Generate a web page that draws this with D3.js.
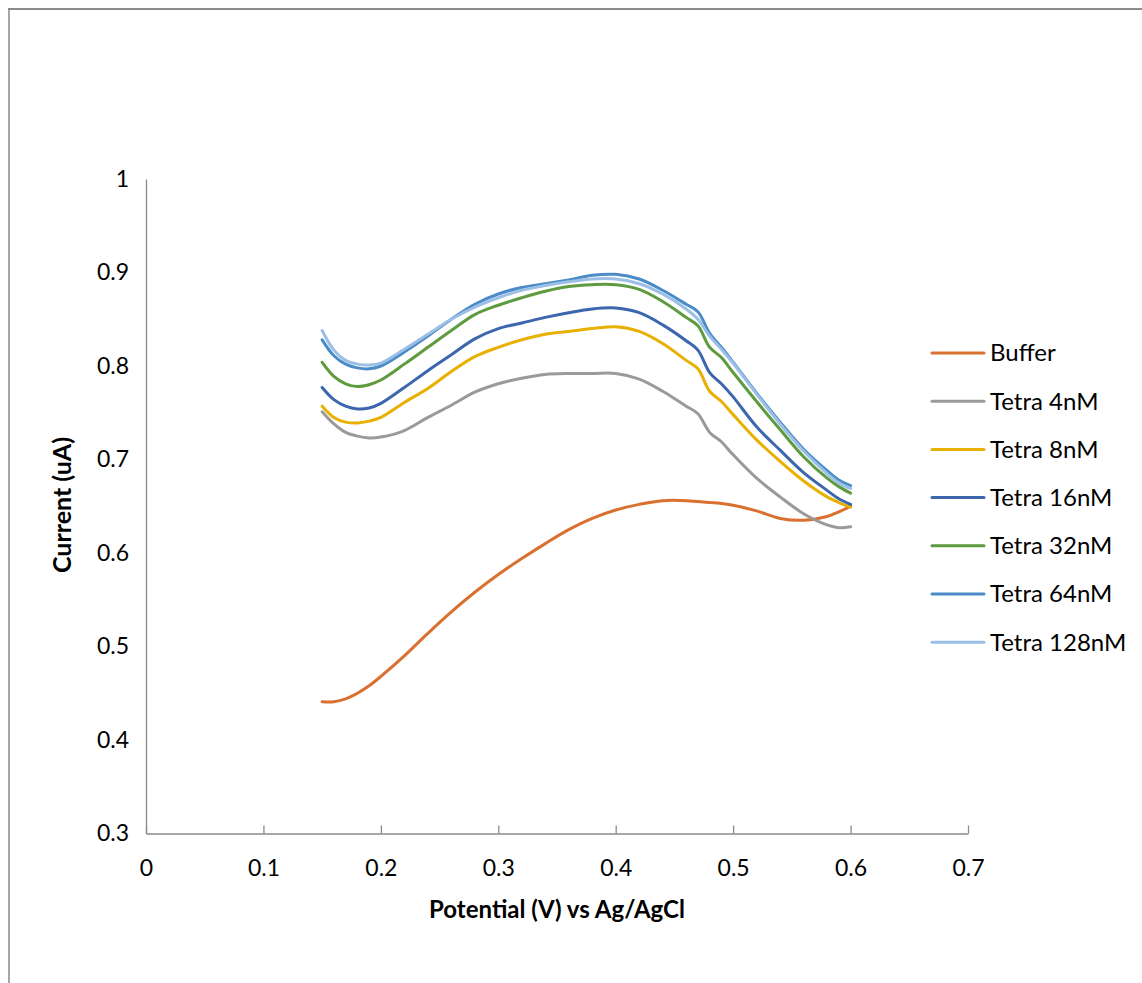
<!DOCTYPE html>
<html>
<head>
<meta charset="utf-8">
<script src="https://cdn.jsdelivr.net/npm/d3@7"></script>
<style>
  html, body { margin: 0; padding: 0; background: #fff; }
  svg { display: block; }
  text { font-family: Lato, "Open Sans", "Liberation Sans", sans-serif; fill: #000; }
</style>
</head>
<body>
<svg id="chart" width="1142" height="983"></svg>
<script>
// Potential (V vs Ag/AgCl) sampled along the sweep
const potential = [0.15, 0.16, 0.17, 0.18, 0.19, 0.20, 0.22, 0.24, 0.26, 0.28, 0.30, 0.32, 0.34, 0.36, 0.38,
                   0.40, 0.42, 0.44, 0.46, 0.47, 0.48, 0.49, 0.50, 0.52, 0.54, 0.56, 0.58, 0.59, 0.60];

// Current (uA) for each solution
const buffer   = [0.441, 0.441, 0.444, 0.450, 0.458, 0.468, 0.490, 0.514, 0.537, 0.558, 0.577, 0.594, 0.610, 0.625, 0.637,
                  0.646, 0.652, 0.656, 0.656, 0.655, 0.654, 0.653, 0.651, 0.645, 0.637, 0.635, 0.639, 0.644, 0.650];
const tetra4   = [0.751, 0.738, 0.729, 0.725, 0.723, 0.724, 0.731, 0.745, 0.758, 0.772, 0.781, 0.787, 0.791, 0.792, 0.792,
                  0.792, 0.786, 0.773, 0.757, 0.749, 0.729, 0.719, 0.705, 0.680, 0.660, 0.642, 0.630, 0.627, 0.628];
const tetra8   = [0.757, 0.745, 0.740, 0.739, 0.741, 0.745, 0.761, 0.776, 0.794, 0.810, 0.820, 0.828, 0.834, 0.837, 0.840,
                  0.842, 0.837, 0.824, 0.806, 0.797, 0.773, 0.762, 0.748, 0.721, 0.698, 0.677, 0.660, 0.654, 0.649];
const tetra16  = [0.777, 0.764, 0.757, 0.754, 0.755, 0.760, 0.777, 0.795, 0.812, 0.829, 0.840, 0.846, 0.852, 0.857, 0.861,
                  0.862, 0.857, 0.844, 0.827, 0.817, 0.793, 0.781, 0.767, 0.735, 0.710, 0.686, 0.667, 0.658, 0.652];
const tetra32  = [0.804, 0.789, 0.781, 0.778, 0.780, 0.785, 0.802, 0.820, 0.838, 0.855, 0.865, 0.873, 0.880, 0.885, 0.887,
                  0.887, 0.882, 0.869, 0.852, 0.843, 0.820, 0.809, 0.793, 0.762, 0.732, 0.703, 0.680, 0.671, 0.664];
const tetra64  = [0.828, 0.811, 0.802, 0.798, 0.797, 0.800, 0.815, 0.832, 0.850, 0.866, 0.877, 0.884, 0.888, 0.892, 0.897,
                  0.898, 0.893, 0.881, 0.866, 0.858, 0.835, 0.820, 0.804, 0.771, 0.740, 0.711, 0.688, 0.678, 0.672];
const tetra128 = [0.838, 0.817, 0.806, 0.802, 0.801, 0.803, 0.818, 0.834, 0.850, 0.863, 0.873, 0.881, 0.886, 0.890, 0.893,
                  0.893, 0.888, 0.877, 0.861, 0.850, 0.832, 0.818, 0.803, 0.770, 0.738, 0.709, 0.685, 0.675, 0.669];

const seriesNames  = ["Buffer", "Tetra 4nM", "Tetra 8nM", "Tetra 16nM", "Tetra 32nM", "Tetra 64nM", "Tetra 128nM"];
const seriesValues = [buffer, tetra4, tetra8, tetra16, tetra32, tetra64, tetra128];
const seriesColors = ["#DA7030", "#9A9A9A", "#E8B000", "#3C66AE", "#5E9B3E", "#4B8BC6", "#9BBFE6"];

const xTicks = [0, 0.1, 0.2, 0.3, 0.4, 0.5, 0.6, 0.7];
const yTicks = [0.3, 0.4, 0.5, 0.6, 0.7, 0.8, 0.9, 1];

const svg = d3.select("#chart");

// chart area frame
svg.append("line").attr("x1", 9).attr("y1", 9).attr("x2", 9).attr("y2", 983)
  .attr("stroke", "#a6a6a6").attr("stroke-width", 2);
svg.append("line").attr("x1", 8).attr("y1", 9).attr("x2", 1142).attr("y2", 9)
  .attr("stroke", "#8c8c8c").attr("stroke-width", 2);

const x = d3.scaleLinear().domain([0, 0.7]).range([146, 968]);
const y = d3.scaleLinear().domain([0.3, 1]).range([833.5, 179]);

// x axis with inward ticks
const xAxis = svg.append("g").attr("transform", `translate(0,${y(0.3)})`)
  .call(d3.axisBottom(x).tickValues(xTicks).tickSizeInner(-8).tickSizeOuter(0)
        .tickFormat(d => d === 0 ? "0" : d3.format(".1f")(d)));
xAxis.select(".domain").attr("stroke", "#8a8a8a").attr("stroke-width", 1.3);
xAxis.selectAll(".tick line").attr("stroke", "#8a8a8a").attr("stroke-width", 1.3);
xAxis.selectAll(".tick text").attr("y", 26).attr("dy", "0.71em")
  .style("font-size", "23px").style("font-family", "Lato, 'Open Sans', sans-serif").attr("fill", "#000");

// y axis without ticks
const yAxis = svg.append("g").attr("transform", `translate(${x(0)},0)`)
  .call(d3.axisLeft(y).tickValues(yTicks).tickSize(0)
        .tickFormat(d => d === 1 ? "1" : d3.format(".1f")(d)));
yAxis.select(".domain").attr("stroke", "#8a8a8a").attr("stroke-width", 1.3);
yAxis.selectAll(".tick text").attr("x", -17)
  .style("font-size", "23px").style("font-family", "Lato, 'Open Sans', sans-serif").attr("fill", "#000");

// axis titles
svg.append("text").attr("x", 557).attr("y", 918).attr("text-anchor", "middle")
  .style("font-size", "24px").style("font-weight", "bold").text("Potential (V) vs Ag/AgCl");
svg.append("text").attr("transform", "translate(71,505) rotate(-90)").attr("text-anchor", "middle")
  .style("font-size", "25px").style("font-weight", "bold").text("Current (uA)");

// curves
const line = d3.line()
  .x((d, i) => x(potential[i]))
  .y(d => y(d))
  .curve(d3.curveCatmullRom.alpha(0.5));

svg.append("g").selectAll("path")
  .data(seriesValues)
  .join("path")
  .attr("d", d => line(d))
  .attr("fill", "none")
  .attr("stroke", (d, i) => seriesColors[i])
  .attr("stroke-width", 3)
  .attr("stroke-linecap", "round")
  .attr("stroke-linejoin", "round");

// legend
const legend = svg.append("g");
seriesNames.forEach((name, i) => {
  const ly = 353 + i * 48.2;
  legend.append("line").attr("x1", 932).attr("x2", 984).attr("y1", ly).attr("y2", ly)
    .attr("stroke", seriesColors[i]).attr("stroke-width", 3).attr("stroke-linecap", "round");
  legend.append("text").attr("x", 990).attr("y", ly).attr("dy", "0.35em")
    .style("font-size", "24px").text(name);
});
</script>
</body>
</html>
